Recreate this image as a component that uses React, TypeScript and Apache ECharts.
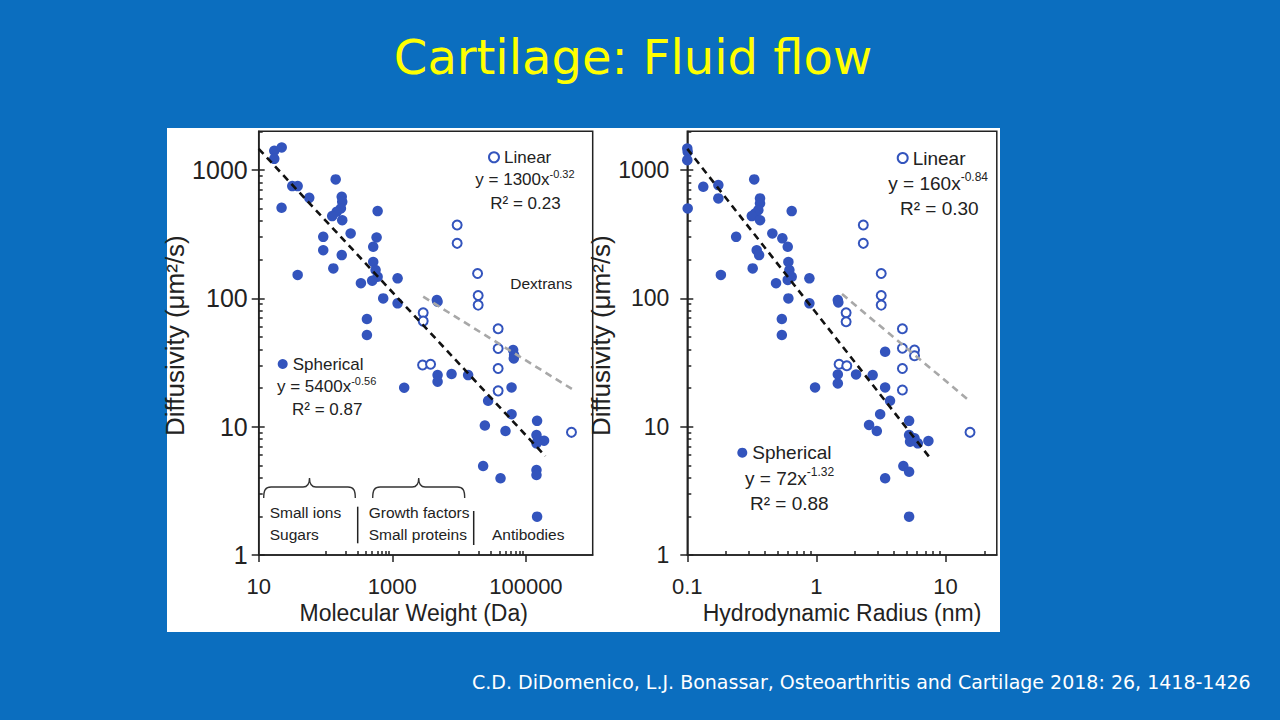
import React, { useEffect, useRef } from "react";
import * as echarts from "echarts";

// ---------------- data ----------------
// Left panel: Molecular weight (Da) vs diffusivity (µm²/s)
const leftSphericalMW = [17.1, 22.1, 17.1, 22, 31.8, 38.3, 57.1, 142, 175, 178, 170, 147, 126, 178, 238, 92.5, 92.5, 175, 131, 38.3, 603, 582, 518, 518, 562, 603, 500, 1200, 339, 731, 1200, 4645, 4760, 417, 417, 64400, 66600, 65900, 1507, 4765, 4765, 7710, 13650, 27200, 61000, 61000, 24300, 49500, 147000, 144000, 152000, 187000, 144000, 22900, 41700, 144000, 144000, 147000];
const leftSphericalD = [1409, 1497, 1220, 507, 748, 748, 606, 844, 617, 564, 501, 472, 437, 406, 320, 301, 237, 217, 171, 152, 478, 298, 252, 192, 166, 147, 137, 143, 131, 99.8, 91.3, 96.8, 94, 68.9, 51.7, 39.5, 36.1, 34.0, 20.1, 25.2, 22.4, 25.7, 25.2, 15.9, 20.2, 12.5, 10.2, 9.24, 11.1, 8.6, 7.87, 7.77, 7.41, 4.93, 3.96, 4.59, 4.2, 1.99];
const leftLinearMW = [9350, 9350, 18900, 19300, 19300, 2900, 2900, 38400, 38400, 38400, 38400, 2840, 3740, 481000];
const leftLinearD = [372, 268, 156, 105, 88.5, 77.1, 66.4, 57.9, 40.6, 28.4, 19.0, 30.2, 30.6, 9.03];
const leftSphericalFitX = [10, 195000];
const leftSphericalFitY = [1460, 5.9];
const leftLinearFitX = [2900, 500000];
const leftLinearFitY = [103, 19.5];

// Right panel: Hydrodynamic radius (nm) vs diffusivity (µm²/s)
const rightSphericalR = [0.1, 0.1007, 0.1, 0.1007, 0.133, 0.174, 0.174, 0.33, 0.366, 0.366, 0.355, 0.335, 0.316, 0.366, 0.644, 0.239, 0.456, 0.545, 0.6, 0.345, 0.36, 0.321, 0.182, 0.607, 0.618, 0.644, 0.6, 0.883, 0.487, 0.607, 0.883, 1.466, 1.48, 0.54, 0.54, 3.41, 1.466, 1.466, 0.977, 2.03, 2.73, 3.41, 3.72, 3.12, 2.56, 2.94, 5.23, 5.23, 5.76, 6.11, 5.32, 7.38, 3.41, 4.72, 5.23, 5.23];
const rightSphericalD = [1470, 1384, 1192, 501, 739, 762, 600, 844, 600, 548, 486, 458, 437, 406, 478, 301, 320, 293, 252, 237, 217, 171, 152, 192, 166, 147, 139, 143, 131, 99.8, 91.3, 96.8, 92.9, 68.9, 51.7, 38.3, 25.5, 21.7, 20.2, 25.5, 25.2, 20.2, 15.9, 12.5, 10.3, 9.24, 11.1, 8.6, 8.11, 7.41, 7.63, 7.73, 3.96, 4.93, 4.45, 1.99];
const rightLinearR = [2.31, 2.31, 3.18, 3.18, 3.18, 1.7, 1.7, 4.64, 4.64, 4.64, 4.64, 1.5, 1.72, 5.76, 5.76, 15.5];
const rightLinearD = [372, 268, 156, 105, 88.5, 77.1, 65.6, 57.9, 40.8, 28.4, 19.3, 30.6, 29.8, 39.5, 35.7, 9.03];
const rightSphericalFitX = [0.1, 7.5];
const rightSphericalFitY = [1460, 5.8];
const rightLinearFitX = [1.58, 15.2];
const rightLinearFitY = [108, 16];

// Axis ranges and tick labels
const leftXRange = [10, 1000000];
const rightXRange = [0.1, 25];
const yRange = [1, 2000];
const leftXTickLabels = [10, 1000, 100000];
const rightXTickLabels = [0.1, 1, 10];
const yTickLabels = [1, 10, 100, 1000];
const leftXMinorDecades = [100, 10000];
const rightXMinorDecades = [0.1, 1, 10];
const yMinorDecades = [1, 10, 100, 1000];

// ---------------- helpers ----------------
const lg = (v: number) => Math.log10(v);
const fmt = (v: number) => String(Number(Math.pow(10, v).toPrecision(6)));
const pairs = (xs: number[], ys: number[]) => xs.map((x, i) => [lg(x), lg(ys[i])]);
const minors = (decades: number[], kFrom: number, maxV: number) => {
  const out: number[] = [];
  decades.forEach((d) => {
    for (let k = kFrom; k <= 9; k++) {
      const v = k * d;
      if (v <= maxV * 1.0001) out.push(lg(v));
    }
  });
  return out;
};

const BRACE_D =
  "M0,20 C0,12 2,9 8,9 L43,9 C48,9 50,5 50,0 C50,5 52,9 57,9 L92,9 C98,9 100,12 100,20";
echarts.graphic.registerShape("brace", echarts.graphic.extendPath(BRACE_D, {}));

const FIG_FONT = "Liberation Sans";
const INK = "#222222";
const DOT = "#3354bd";
const SLIDE_FONT = "DejaVu Sans";

const lineSt = { color: INK, width: 1.5 };

function xAxes(grid: number, range: number[], labels: number[], minorVals: number[], name: string, pad: number[], labelSize: number) {
  return [
    {
      type: "value",
      gridIndex: grid,
      min: lg(range[0]),
      max: lg(range[1]),
      position: "bottom",
      axisLine: { show: true, onZero: false, lineStyle: lineSt },
      axisTick: { show: true, inside: false, length: 7, customValues: labels.map(lg), lineStyle: lineSt },
      axisLabel: {
        show: true,
        customValues: labels.map(lg),
        formatter: fmt,
        margin: 20,
        fontSize: labelSize,
        color: INK,
        fontFamily: FIG_FONT,
      },
      splitLine: { show: false },
      name,
      nameLocation: "middle",
      nameGap: 44,
      nameTextStyle: { fontSize: 23, color: INK, fontFamily: FIG_FONT, padding: pad },
    },
    {
      type: "value",
      gridIndex: grid,
      min: lg(range[0]),
      max: lg(range[1]),
      position: "bottom",
      axisLine: { show: false, onZero: false },
      axisTick: { show: true, inside: true, length: 4, customValues: minorVals, lineStyle: lineSt },
      axisLabel: { show: false },
      splitLine: { show: false },
    },
  ];
}

function yAxes(grid: number, labelSize: number, labelMargin: number, nameGap: number) {
  const majors = yTickLabels.map(lg);
  const yMinor = minors(yMinorDecades, 2, yRange[1]);
  const base = {
    type: "value",
    gridIndex: grid,
    min: lg(yRange[0]),
    max: lg(yRange[1]),
    position: "left",
    splitLine: { show: false },
  };
  return [
    {
      ...base,
      axisLine: { show: true, onZero: false, lineStyle: lineSt },
      axisTick: { show: true, inside: false, length: 7, customValues: majors, lineStyle: lineSt },
      axisLabel: {
        show: true,
        customValues: majors,
        formatter: fmt,
        margin: labelMargin,
        fontSize: labelSize,
        color: INK,
        fontFamily: FIG_FONT,
      },
      name: "Diffusivity (μm²/s)",
      nameLocation: "middle",
      nameRotate: 90,
      nameGap,
      nameTextStyle: { fontSize: 26, color: INK, fontFamily: FIG_FONT, padding: [0, 0, 0, 15] },
    },
    {
      ...base,
      axisLine: { show: false, onZero: false },
      axisTick: { show: true, inside: true, length: 6, customValues: majors, lineStyle: lineSt },
      axisLabel: { show: false },
    },
    {
      ...base,
      axisLine: { show: false, onZero: false },
      axisTick: { show: true, inside: true, length: 4, customValues: yMinor, lineStyle: lineSt },
      axisLabel: { show: false },
    },
  ];
}

function scatter(name: string, xi: number, yi: number, data: number[][], filled: boolean) {
  return {
    type: "scatter",
    name,
    xAxisIndex: xi,
    yAxisIndex: yi,
    data,
    symbol: filled ? "circle" : "emptyCircle",
    symbolSize: filled ? 10.5 : 9,
    itemStyle: filled ? { color: DOT, opacity: 1 } : { color: DOT, borderWidth: 1.6, opacity: 1 },
    clip: false,
    z: 3,
  };
}

function fit(name: string, xi: number, yi: number, data: number[][], color: string) {
  return {
    type: "line",
    name,
    xAxisIndex: xi,
    yAxisIndex: yi,
    data,
    symbol: "none",
    showSymbol: false,
    silent: true,
    lineStyle: { color, width: 2.6, type: [7, 5] },
    z: 5,
  };
}

function txt(x: number, y: number, text: string, size: number, extra: any = {}) {
  return {
    type: "text",
    x,
    y,
    z: 20,
    style: {
      text,
      fontSize: size,
      fontFamily: FIG_FONT,
      fill: INK,
      align: "left",
      verticalAlign: "middle",
      ...extra,
    },
  };
}

function eqn(x: number, y: number, text: string, size: number, supSize: number) {
  return txt(x, y, text, size, {
    rich: {
      sup: { fontSize: supSize, fontFamily: FIG_FONT, fill: INK, padding: [0, 0, Math.round(size * 0.65), 0] },
    },
  });
}

function legend(name: string, left: number, top: number, size: number) {
  return {
    data: [name],
    left,
    top,
    padding: 0,
    itemWidth: 10,
    itemHeight: 10,
    selectedMode: false,
    textStyle: { fontSize: size, color: INK, fontFamily: FIG_FONT },
  };
}

function buildOption() {
  const leftXMinor = minors(leftXMinorDecades, 1, leftXRange[1]);
  const rightXMinor = minors(rightXMinorDecades, 2, rightXRange[1]);
  return {
    animation: false,
    backgroundColor: "#0b6ebf",
    textStyle: { fontFamily: FIG_FONT },
    grid: [
      { left: 258.7, top: 131.3, width: 334, height: 423.7, show: true, borderColor: INK, borderWidth: 1.5, backgroundColor: "transparent", outerBoundsMode: "none", z: 1 },
      { left: 687.3, top: 131.3, width: 309.5, height: 423.7, show: true, borderColor: INK, borderWidth: 1.5, backgroundColor: "transparent", outerBoundsMode: "none", z: 1 },
    ],
    xAxis: [
      ...xAxes(0, leftXRange, leftXTickLabels, leftXMinor, "Molecular Weight (Da)", [0, 24, 0, 0], 22),
      ...xAxes(1, rightXRange, rightXTickLabels, rightXMinor, "Hydrodynamic Radius (nm)", [0, 0, 0, 0], 22),
    ],
    yAxis: [...yAxes(0, 25, 11, 68), ...yAxes(1, 23, 18, 64)],
    legend: [
      legend("Linear", 488, 148.8, 17),
      legend("Spherical", 277.7, 355.5, 17),
      legend("Linear", 896.7, 148.5, 19),
      legend("Spherical", 737.3, 443.2, 19),
    ],
    series: [
      scatter("Spherical", 0, 0, pairs(leftSphericalMW, leftSphericalD), true),
      scatter("Linear", 0, 0, pairs(leftLinearMW, leftLinearD), false),
      fit("Spherical fit (MW)", 0, 0, pairs(leftSphericalFitX, leftSphericalFitY), "#111111"),
      fit("Linear fit (MW)", 0, 0, pairs(leftLinearFitX, leftLinearFitY), "#a8a8a8"),
      scatter("Spherical", 2, 3, pairs(rightSphericalR, rightSphericalD), true),
      scatter("Linear", 2, 3, pairs(rightLinearR, rightLinearD), false),
      fit("Spherical fit (Rh)", 2, 3, pairs(rightSphericalFitX, rightSphericalFitY), "#111111"),
      fit("Linear fit (Rh)", 2, 3, pairs(rightLinearFitX, rightLinearFitY), "#a8a8a8"),
    ],
    graphic: [
      { type: "rect", z: -10, shape: { x: 167, y: 128, width: 833, height: 504 }, style: { fill: "#ffffff" } },
      {
        type: "text",
        x: 633,
        y: 56.7,
        z: 20,
        style: { text: "Cartilage: Fluid flow", fontSize: 48, fontFamily: SLIDE_FONT, fill: "#ffff00", align: "center", verticalAlign: "middle" },
      },
      {
        type: "text",
        x: 472,
        y: 682,
        z: 20,
        style: {
          text: "C.D. DiDomenico, L.J. Bonassar, Osteoarthritis and Cartilage 2018: 26, 1418-1426",
          fontSize: 19,
          fontFamily: SLIDE_FONT,
          fill: "#ffffff",
          align: "left",
          verticalAlign: "middle",
        },
      },
      // left panel annotations
      eqn(475.3, 179.7, "y = 1300x{sup|-0.32}", 17, 11),
      txt(490.3, 203, "R² = 0.23", 17),
      eqn(277, 386.7, "y = 5400x{sup|-0.56}", 17, 11),
      txt(292, 409.3, "R² = 0.87", 17),
      txt(510.3, 283, "Dextrans", 15.5),
      { type: "brace", x: 263.7, y: 478, scaleX: 0.916, scaleY: 1, z: 20, style: { stroke: "#333333", fill: "none", lineWidth: 1.5 } },
      { type: "brace", x: 372.7, y: 478, scaleX: 0.92, scaleY: 1, z: 20, style: { stroke: "#333333", fill: "none", lineWidth: 1.5 } },
      { type: "line", z: 20, shape: { x1: 357.7, y1: 506.7, x2: 357.7, y2: 543.3 }, style: { stroke: INK, lineWidth: 1.5 } },
      { type: "line", z: 20, shape: { x1: 473.7, y1: 511, x2: 473.7, y2: 545 }, style: { stroke: INK, lineWidth: 1.5 } },
      txt(269.7, 512.7, "Small ions", 15.5),
      txt(269.7, 534, "Sugars", 15.5),
      txt(368.7, 512.7, "Growth factors", 15.5),
      txt(368.7, 534, "Small proteins", 15.5),
      txt(492, 534, "Antibodies", 15.5),
      // right panel annotations
      eqn(888.3, 183, "y = 160x{sup|-0.84}", 19, 12),
      txt(900, 208, "R² = 0.30", 19),
      eqn(745, 478.3, "y = 72x{sup|-1.32}", 19, 12),
      txt(750, 503.3, "R² = 0.88", 19),
    ],
  };
}

export default function App() {
  const ref = useRef<HTMLDivElement>(null);
  useEffect(() => {
    if (!ref.current) return;
    const chart = echarts.init(ref.current, undefined, { renderer: "svg" });
    chart.setOption(buildOption() as any);
    return () => chart.dispose();
  }, []);
  return (
    <div
      ref={ref}
      style={{ position: "absolute", left: 0, top: 0, width: 1280, height: 720 }}
    />
  );
}
